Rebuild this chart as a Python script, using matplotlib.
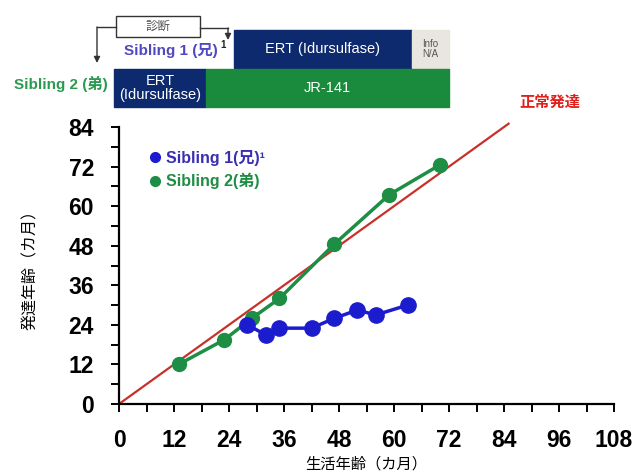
import matplotlib
matplotlib.use("Agg")
import matplotlib.pyplot as plt
from matplotlib.patches import FancyArrowPatch, Rectangle
from matplotlib.lines import Line2D

plt.rcParams['font.family'] = ['Liberation Sans', 'Noto Sans CJK JP', 'DejaVu Sans']

# ---- data ----
sib1_x = [28, 32, 35, 42, 47, 52, 56, 63]
sib1_y = [24, 21, 23, 23, 26, 28.5, 27, 30]
sib2_x = [13, 23, 29, 35, 47, 59, 70]
sib2_y = [12, 19.5, 26, 32, 48.5, 63.5, 72.5]
normal_x = [0, 85]
normal_y = [0, 85]
ticks = [0, 12, 24, 36, 48, 60, 72, 84, 96, 108]
yticks = [0, 12, 24, 36, 48, 60, 72, 84]

# treatment timeline (months): (start, end, label)
sib1_bars = [(25, 64, 'ERT (Idursulfase)', '#0e2a6e', 'white'),
             (64, 72, 'Info\nN/A', '#e9e6df', '#555555')]
sib2_bars = [(-1, 19, 'ERT\n(Idursulfase)', '#0e2a6e', 'white'),
             (19, 72, 'JR-141', '#1a8a3c', 'white')]

BLUE = '#1c1ccf'
GREEN = '#1e8e45'
RED = '#c8302a'

fig = plt.figure(figsize=(6.41, 4.74), dpi=100)
W, H = 641, 474
L, R = 119 / W, 614 / W
ax = fig.add_axes([L, 1 - 404 / H, R - L, (404 - 127) / H])

ax.plot(normal_x, normal_y, color=RED, lw=1.6, clip_on=False, zorder=2)
ax.plot(sib2_x, sib2_y, color=GREEN, lw=2.5, marker='o', ms=10, zorder=3)
ax.plot(sib1_x, sib1_y, color=BLUE, lw=2.5, marker='o', ms=11, zorder=4)

ax.set_xlim(0, 108)
ax.set_ylim(0, 84)
ax.set_xticks(ticks)
ax.set_yticks(yticks)
ax.set_xticks(list(range(0, 109, 6)), minor=True)
ax.set_yticks(list(range(0, 85, 6)), minor=True)
for s in ['top', 'right']:
    ax.spines[s].set_visible(False)
for s in ['left', 'bottom']:
    ax.spines[s].set_linewidth(1.6)
ax.tick_params(which='both', direction='out', length=6, width=1.4)
ax.tick_params(axis='both', which='major', labelsize=16.5, pad=12)
for t in ax.get_xticklabels() + ax.get_yticklabels():
    t.set_fontweight('bold')

ax.set_xlabel('生活年齢（カ月）', fontsize=11, va='center')
ax.xaxis.set_label_coords(0.5, (404 - 464) / 277)
ax.set_ylabel('発達年齢（カ月）', fontsize=11.5, labelpad=22)

# legend
ax.legend(handles=[Line2D([], [], ls='none', marker='o', color=BLUE, ms=7, label='Sibling 1(兄)¹'),
                   Line2D([], [], ls='none', marker='o', color=GREEN, ms=7, label='Sibling 2(弟)')],
          loc='upper left', bbox_to_anchor=(0.03, 0.97), frameon=False, handletextpad=0.3,
          labelspacing=0.45, prop={'weight': 'bold', 'size': 11.5}, handlelength=0.8)
leg = ax.get_legend()
leg.get_texts()[0].set_color('#3a2fb0')
leg.get_texts()[1].set_color(GREEN)

ax.text(0.87, 1.087, '正常発達', transform=ax.transAxes, color='#e0201a', fontsize=11,
        fontweight='bold', ha='center', va='center')

# timeline axes
tax = fig.add_axes([L, 1 - 107 / H, R - L, (107 - 30) / H])
tax.set_xlim(0, 108)
tax.set_ylim(0, 2.05)
tax.axis('off')
for (a, b, lab, c, tc) in sib1_bars:
    tax.add_patch(Rectangle((a, 1.05), b - a, 1.0, color=c, clip_on=False))
    tax.text((a + b) / 2, 1.55, lab, ha='center', va='center', color=tc,
             fontsize=7 if 'Info' in lab else 10.5, linespacing=1.0)
for (a, b, lab, c, tc) in sib2_bars:
    tax.add_patch(Rectangle((a, 0), b - a, 1.0, color=c, clip_on=False))
    tax.text((a + b) / 2, 0.5, lab, ha='center', va='center', color=tc,
             fontsize=10.5, linespacing=0.95)

fig.text(218 / W, 1 - 50 / H, 'Sibling 1 (兄)', ha='right', va='center', color='#5048c0',
         fontsize=11, fontweight='bold')
fig.text(220 / W, 1 - 45 / H, '1', ha='left', va='center', color='#222222', fontsize=7, fontweight='bold')
fig.text(108 / W, 1 - 84 / H, 'Sibling 2 (弟)', ha='right', va='center', color='#2a9a50',
         fontsize=11, fontweight='bold')

# diagnosis box and arrows
fig.add_artist(Rectangle((116 / W, 1 - 37 / H), 84 / W, 21 / H, transform=fig.transFigure,
                         fc='white', ec='#333333', lw=1.0))
fig.text(158 / W, 1 - 26.5 / H, '診断', ha='center', va='center', fontsize=9, color='#555555')
fig.add_artist(Line2D([116 / W, 97 / W], [1 - 27 / H, 1 - 27 / H], color='#333333', lw=1.0))
fig.add_artist(FancyArrowPatch((97 / W, 1 - 27 / H), (97 / W, 1 - 63 / H), transform=fig.transFigure,
                               arrowstyle='-|>', mutation_scale=9, color='#333333', lw=1.0,
                               shrinkA=0, shrinkB=0))
fig.add_artist(Line2D([200 / W, 228 / W], [1 - 28 / H, 1 - 28 / H], color='#333333', lw=1.0))
fig.add_artist(FancyArrowPatch((228 / W, 1 - 28 / H), (228 / W, 1 - 40 / H), transform=fig.transFigure,
                               arrowstyle='-|>', mutation_scale=9, color='#333333', lw=1.0,
                               shrinkA=0, shrinkB=0))

fig.savefig('out.png', dpi=100)
